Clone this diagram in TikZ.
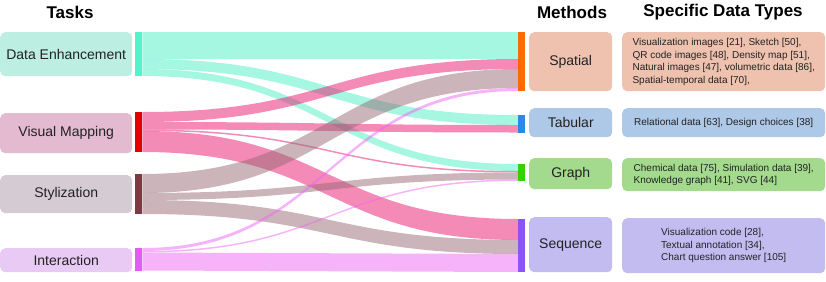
\documentclass[tikz,border=0pt]{standalone}
\usepackage{fontspec}
\setmainfont{Liberation Sans}
\usetikzlibrary{calc}

\definecolor{deCol}{HTML}{4BEFC5}
\definecolor{vmCol}{HTML}{E9156D}
\definecolor{stCol}{HTML}{976975}
\definecolor{inCol}{HTML}{ED67F5}
\definecolor{deBarCol}{HTML}{50F5C9}
\definecolor{vmBarCol}{HTML}{E30000}
\definecolor{stBarCol}{HTML}{7B3B40}
\definecolor{inBarCol}{HTML}{E05BF7}
\definecolor{deBox}{HTML}{BCEEE2}
\definecolor{vmBox}{HTML}{E3BAD0}
\definecolor{stBox}{HTML}{D5CBD3}
\definecolor{inBox}{HTML}{E8CAF4}
\definecolor{spBarCol}{HTML}{FF6A00}
\definecolor{tbBarCol}{HTML}{2E86E8}
\definecolor{grBarCol}{HTML}{33D100}
\definecolor{sqBarCol}{HTML}{8A55F7}
\definecolor{spBox}{HTML}{EEC2AE}
\definecolor{tbBox}{HTML}{AEC8E8}
\definecolor{grBox}{HTML}{A3DA8D}
\definecolor{sqBox}{HTML}{C3BCF0}
\definecolor{txt}{HTML}{222222}

% band between two bars: from, offset, to, offset, width, colour
\newcommand{\sankeyflow}[6]{%
  \coordinate (fa) at ($(#1.north east)+(0,#2)$);
  \coordinate (fb) at ($(#3.north west)+(0,#4)$);
  \coordinate (fc) at ($(fb)+(0,#5)$);
  \coordinate (fd) at ($(fa)+(0,#5)$);
  \fill[#6, fill opacity=0.5] (fa) .. controls (mid |- fa) and (mid |- fb) .. (fb)
    -- (fc) .. controls (mid |- fc) and (mid |- fd) .. (fd) -- cycle;
}

\tikzset{
  heading/.style={font=\fontsize{17}{20}\selectfont\bfseries, text=black},
  bar/.style={inner sep=0pt, minimum width=7pt, anchor=north west},
  taskbox/.style={rounded corners=5pt, inner sep=0pt, minimum width=132pt,
    anchor=north west, text=txt, font=\fontsize{14}{16}\selectfont},
  methodbox/.style={rounded corners=5pt, inner sep=0pt, minimum width=83pt,
    anchor=north west, text=txt, font=\fontsize{14}{16}\selectfont},
  typebox/.style={rounded corners=5pt, inner sep=0pt, minimum width=203pt,
    anchor=north west, text=txt, align=left, font=\fontsize{10}{12.5}\selectfont},
}

\begin{document}
\begin{tikzpicture}[x=1pt, y=-1pt]
    \useasboundingbox (0,0) rectangle (826,281);
    \coordinate (mid) at (330,0);

    % Headings
    \node[heading] (hTasks) at (70,12) {Tasks};
    \node[heading] (hMethods) at (572,12) {Methods};
    \node[heading] (hTypes) at (723,12) {Specific Data Types};

    % Tasks
    \node[taskbox, fill=deBox, minimum height=44pt] (de) at (0,32) {Data Enhancement};
    \node[taskbox, fill=vmBox, minimum height=40pt] (vm) at (0,113) {Visual Mapping};
    \node[taskbox, fill=stBox, minimum height=38pt] (st) at (0,175) {Stylization};
    \node[taskbox, fill=inBox, minimum height=24pt] (in) at (0,248) {Interaction};

    \node[bar, fill=deBarCol, minimum height=44pt] (deBar) at (135,32) {};
    \node[bar, fill=vmBarCol, minimum height=40pt] (vmBar) at (135,112) {};
    \node[bar, fill=stBarCol, minimum height=40pt] (stBar) at (135,174) {};
    \node[bar, fill=inBarCol, minimum height=22.5pt] (inBar) at (135,248) {};

    % Methods
    \node[bar, fill=spBarCol, minimum height=59pt] (spBar) at (518,32) {};
    \node[bar, fill=tbBarCol, minimum height=17.5pt] (tbBar) at (518,115) {};
    \node[bar, fill=grBarCol, minimum height=17pt] (grBar) at (518,164) {};
    \node[bar, fill=sqBarCol, minimum height=53pt] (sqBar) at (518,219) {};

    \node[methodbox, fill=spBox, minimum height=59pt] (sp) at (529,32) {Spatial};
    \node[methodbox, fill=tbBox, minimum height=29pt] (tb) at (529,108) {Tabular};
    \node[methodbox, fill=grBox, minimum height=31pt] (gr) at (529,158) {Graph};
    \node[methodbox, fill=sqBox, minimum height=55pt] (sq) at (529,217) {Sequence};

    % Data types
    \node[typebox, fill=spBox, minimum height=59pt] (spTypes) at (622,32)
      {Visualization images [21], Sketch [50],\\QR code images [48], Density map [51],\\
       Natural images [47], volumetric data [86],\\Spatial-temporal data [70],};
    \node[typebox, fill=tbBox, minimum height=29pt] (tbTypes) at (622,108)
      {Relational data [63], Design choices [38]};
    \node[typebox, fill=grBox, minimum height=33pt] (grTypes) at (622,158)
      {Chemical data [75], Simulation data [39],\\Knowledge graph [41], SVG [44]};
    \node[typebox, fill=sqBox, minimum height=55pt] (sqTypes) at (622,218)
      {Visualization code [28],\\Textual annotation [34],\\Chart question answer [105]};

    % Flows
    \sankeyflow{deBar}{0}{spBar}{0}{27}{deCol}
    \sankeyflow{deBar}{27}{tbBar}{0}{10}{deCol}
    \sankeyflow{deBar}{37}{grBar}{0}{7}{deCol}
    \sankeyflow{vmBar}{0}{spBar}{27}{10}{vmCol}
    \sankeyflow{vmBar}{10}{tbBar}{10}{7.5}{vmCol}
    \sankeyflow{vmBar}{17.5}{grBar}{7}{1.5}{vmCol}
    \sankeyflow{vmBar}{19}{sqBar}{0}{21}{vmCol}
    \sankeyflow{stBar}{0}{spBar}{37}{19}{stCol}
    \sankeyflow{stBar}{19}{grBar}{8.5}{7}{stCol}
    \sankeyflow{stBar}{26}{sqBar}{21}{14}{stCol}
    \sankeyflow{inBar}{0}{spBar}{56}{3}{inCol}
    \sankeyflow{inBar}{3}{grBar}{15.5}{1.5}{inCol}
    \sankeyflow{inBar}{4.5}{sqBar}{35}{18}{inCol}
\end{tikzpicture}
\end{document}
